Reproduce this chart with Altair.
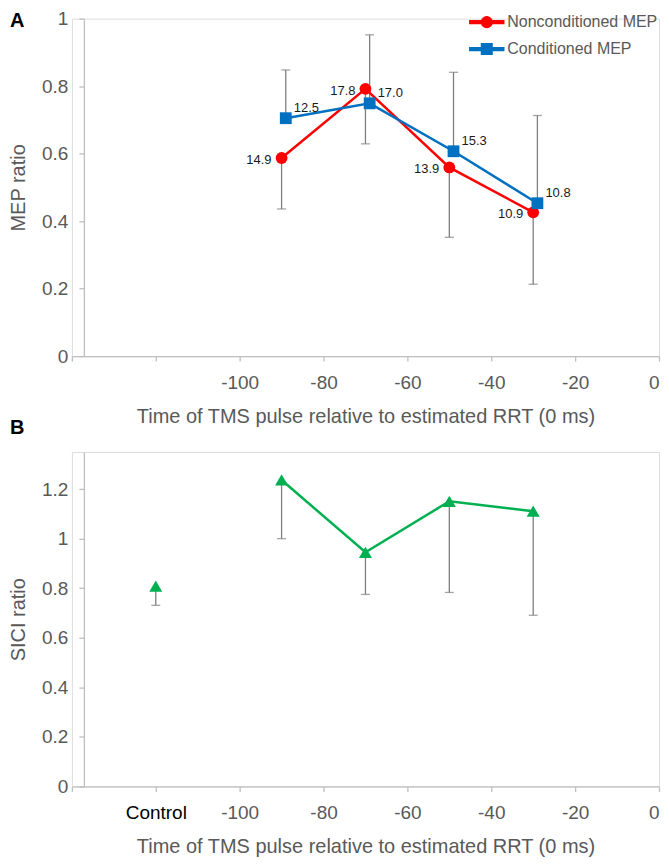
import math
import altair as alt
import pandas as pd

# ---------------- data ----------------
panel_letters = ["A", "B"]

a_series = ["Nonconditioned MEP", "Conditioned MEP"]
a_colors = ["#FF0000", "#0070C0"]

non_x = [-90, -70, -50, -30]
non_y = [0.587, 0.792, 0.559, 0.426]
non_err = [0.436, 0.629, 0.352, 0.213]          # lower end of error bar
non_lab = ["14.9", "17.8", "13.9", "10.9"]

con_x = [-89, -69, -49, -29]
con_y = [0.705, 0.749, 0.607, 0.453]
con_err = [0.848, 0.952, 0.841, 0.713]          # upper end of error bar
con_lab = ["12.5", "17.0", "15.3", "10.8"]

sici_x = [-120, -90, -70, -50, -30]             # -120 = Control
sici_y = [0.809, 1.237, 0.945, 1.151, 1.111]
sici_err = [0.731, 1.000, 0.775, 0.783, 0.691]

x_ticks = [-140, -120, -100, -80, -60, -40, -20, 0]
a_yticks = [0, 0.2, 0.4, 0.6, 0.8, 1]
b_yticks = [0, 0.2, 0.4, 0.6, 0.8, 1, 1.2]

x_title = "Time of TMS pulse relative to estimated RRT (0 ms)"

# ---------------- styles ----------------
FONT = "Liberation Sans"
AX_GRAY = "#BFBFBF"
TXT_GRAY = "#595959"
ERR_GRAY = "#7F7F7F"
GREEN = "#00B050"

dfA = pd.DataFrame(
    {
        "series": [a_series[0]] * len(non_x) + [a_series[1]] * len(con_x),
        "x": non_x + con_x,
        "y": non_y + con_y,
        "err": non_err + con_err,
        "label": non_lab + con_lab,
    }
)
dfB = pd.DataFrame({"x": sici_x, "y": sici_y, "err": sici_err})


def x_axis(label_expr, label_color):
    return alt.Axis(
        values=x_ticks,
        labelExpr=label_expr,
        labelColor=label_color,
        labelFontSize=19,
        labelFont=FONT,
        labelPadding=12,
        tickSize=5,
        tickColor=AX_GRAY,
        tickWidth=1.3,
        domainColor=AX_GRAY,
        domainWidth=1.3,
        grid=False,
        title=x_title,
        titleFont=FONT,
        titleFontSize=20,
        titleFontWeight="normal",
        titleColor=TXT_GRAY,
        titleY=60,
        titleBaseline="middle",
    )


def y_axis(vals, title):
    return alt.Axis(
        values=vals,
        format="~g",
        offset=-12,
        labelColor=TXT_GRAY,
        labelFontSize=19,
        labelFont=FONT,
        labelPadding=11,
        tickSize=5,
        tickColor=AX_GRAY,
        tickWidth=1.3,
        domainColor=AX_GRAY,
        domainWidth=1.3,
        grid=False,
        title=title,
        titleFont=FONT,
        titleFontSize=20,
        titleFontWeight="normal",
        titleColor=TXT_GRAY,
        titleX=-65,
        titleBaseline="middle",
    )


def panel_letter(letter, ypix):
    return alt.Chart(pd.DataFrame({"t": [letter]})).mark_text(
        align="left", baseline="alphabetic", fontSize=20, fontWeight="bold",
        font=FONT, color="black"
    ).encode(x=alt.value(-62), y=alt.value(ypix), text="t:N")


xscale = alt.Scale(domain=[-140, 0], nice=False, zero=False)

# ---------------- Panel A ----------------
xA = alt.X("x:Q", scale=xscale,
           axis=x_axis("datum.value <= -120 ? '' : '' + datum.value", TXT_GRAY))
yscaleA = alt.Scale(domain=[0, 1], nice=False)
yA = alt.Y("y:Q", scale=yscaleA, axis=y_axis(a_yticks, "MEP ratio"))
yA_err = alt.Y("err:Q", scale=yscaleA, axis=y_axis(a_yticks, "MEP ratio"))

# legend symbols: a short line with the marker on it (polygons only)
def _poly(pts):
    return "M" + " L".join(f"{px:.3f},{py:.3f}" for px, py in pts) + " Z"

_bar_l = _poly([(-2, -0.17), (-0.45, -0.17), (-0.45, 0.17), (-2, 0.17)])
_bar_r = _poly([(0.45, -0.17), (2, -0.17), (2, 0.17), (0.45, 0.17)])
_circ = _poly([(0.62 * math.cos(2 * math.pi * k / 24), 0.62 * math.sin(2 * math.pi * k / 24))
               for k in range(24)])
_sq = _poly([(-0.62, -0.62), (0.62, -0.62), (0.62, 0.62), (-0.62, 0.62)])
path_circle = " ".join([_bar_l, _bar_r, _circ])
path_square = " ".join([_bar_l, _bar_r, _sq])

leg = alt.Legend(
    orient="none", legendX=406, legendY=-6, title=None,
    labelFont=FONT, labelFontSize=16, labelColor=TXT_GRAY, labelOffset=11,
    symbolSize=289, rowPadding=9,
)
colA = alt.Color("series:N", scale=alt.Scale(domain=a_series, range=a_colors), legend=leg)
shpA = alt.Shape("series:N", scale=alt.Scale(domain=a_series, range=[path_circle, path_square]), legend=leg)

baseA = alt.Chart(dfA)

errA = baseA.mark_rule(color=ERR_GRAY, strokeWidth=1.3).encode(x=xA, y=yA, y2="err:Q")
capA = baseA.mark_tick(color=ERR_GRAY, orient="horizontal", size=9, thickness=1.3).encode(x=xA, y=yA_err)
lineA = baseA.mark_line(strokeWidth=2.5).encode(x=xA, y=yA, color=colA)
# invisible layer that only feeds the legend (line + marker symbols)
legendA = baseA.mark_point(filled=True, opacity=0).encode(x=xA, y=yA, color=colA, shape=shpA)
ptsNon = baseA.transform_filter(alt.datum.series == a_series[0]).mark_point(
    shape="circle", filled=True, size=140, opacity=1).encode(x=xA, y=yA, color=colA)
ptsCon = baseA.transform_filter(alt.datum.series == a_series[1]).mark_point(
    shape="square", filled=True, size=140, opacity=1).encode(x=xA, y=yA, color=colA)
labNon = baseA.transform_filter(alt.datum.series == a_series[0]).mark_text(
    align="right", baseline="middle", dx=-10, dy=2, fontSize=13, font=FONT, color="#1A1A1A"
).encode(x=xA, y=yA, text="label:N")
labCon = baseA.transform_filter(alt.datum.series == a_series[1]).mark_text(
    align="left", baseline="middle", dx=8, dy=-10, fontSize=13, font=FONT, color="#1A1A1A"
).encode(x=xA, y=yA, text="label:N")

chartA = alt.layer(legendA, errA, capA, lineA, ptsNon, ptsCon, labNon, labCon,
                   panel_letter(panel_letters[0], 8)).properties(width=588, height=338)

# ---------------- Panel B ----------------
xB = alt.X("x:Q", scale=xscale,
           axis=x_axis("datum.value == -120 ? 'Control' : (datum.value < -120 ? '' : '' + datum.value)",
                       {"condition": {"test": "datum.value == -120", "value": "black"}, "value": TXT_GRAY}))
yscaleB = alt.Scale(domain=[0, 1.35], nice=False)
yB = alt.Y("y:Q", scale=yscaleB, axis=y_axis(b_yticks, "SICI ratio"))
yB_err = alt.Y("err:Q", scale=yscaleB, axis=y_axis(b_yticks, "SICI ratio"))

baseB = alt.Chart(dfB)
errB = baseB.mark_rule(color=ERR_GRAY, strokeWidth=1.3).encode(x=xB, y=yB, y2="err:Q")
capB = baseB.mark_tick(color=ERR_GRAY, orient="horizontal", size=9, thickness=1.3).encode(x=xB, y=yB_err)
lineB = baseB.transform_filter(alt.datum.x > -120).mark_line(color=GREEN, strokeWidth=2.5).encode(x=xB, y=yB)
ptsB = baseB.mark_point(shape="triangle-up", filled=True, size=170, opacity=1, color=GREEN).encode(x=xB, y=yB)

chartB = alt.layer(errB, capB, lineB, ptsB,
                   panel_letter(panel_letters[1], -18)).properties(width=588, height=335)

chart = alt.vconcat(chartA, chartB, spacing=96, bounds="flush").resolve_legend(
    color="independent", shape="independent"
).properties(padding=0).configure_view(stroke=None).configure(font=FONT)

chart.save("out.html", embed_options={"renderer": "svg", "actions": False})
